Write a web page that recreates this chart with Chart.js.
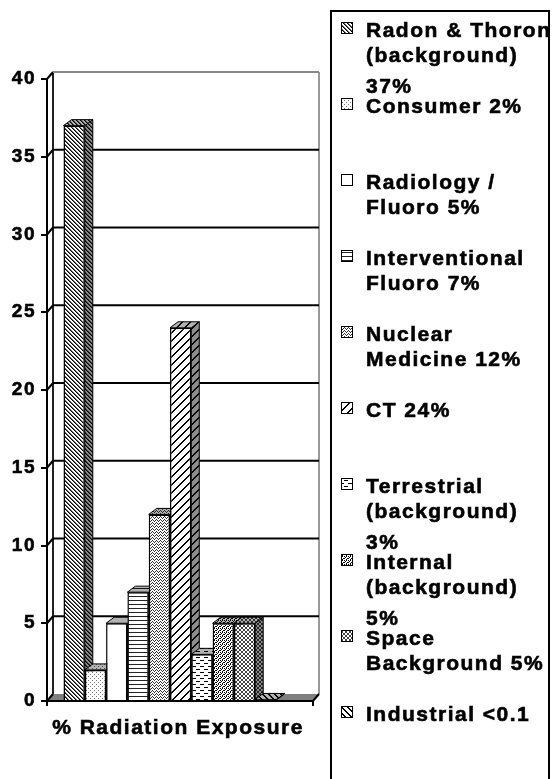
<!DOCTYPE html>
<html>
<head>
<meta charset="utf-8">
<script src="https://cdn.jsdelivr.net/npm/chart.js@4"></script>
<style>
  html, body { margin: 0; padding: 0; background: #fff; }
  #wrap { width: 556px; height: 779px; }
</style>
</head>
<body>
<div id="wrap"><canvas id="chart" width="556" height="779"></canvas></div>
<script>
// ---- data ----
const categories = ['% Radiation Exposure'];
const seriesLabels = [
  ['Radon & Thoron', '(background)', '37%'],
  ['Consumer 2%'],
  ['Radiology /', 'Fluoro 5%'],
  ['Interventional', 'Fluoro 7%'],
  ['Nuclear', 'Medicine 12%'],
  ['CT 24%'],
  ['Terrestrial', '(background)', '3%'],
  ['Internal', '(background)', '5%'],
  ['Space', 'Background 5%'],
  ['Industrial <0.1']
];
const seriesValues = [37, 2, 5, 7, 12, 24, 3, 5, 5, 0.1];
const yTicks = [0, 5, 10, 15, 20, 25, 30, 35, 40];

const FONT = '"Liberation Sans", Arial, sans-serif';
const SPACING = '1.5px';

// fake-3D depths (px): wall offset, bar offset, extra floor to the right
const DEPTH = { wallX: 6, wallY: 7, barX: 8, barY: 6, extra: 20 };

// ---- fill patterns (pixel tiles, Excel-style) ----
const TILES = [
  { rows: ['#+..', '.#+.', '..#+', '+..#'], c: { '#': '#000', '+': '#666' } },     // radon
  { rows: ['+...', '....', '..+.', '....'], c: { '+': '#777' } },                  // consumer
  null,                                                                          // radiology
  { rows: ['####', '....', '....', '....'], c: { '#': '#222' } },                  // interventional
  { rows: ['#...', '.#.#', '..#.'], c: { '#': '#333' } },                          // nuclear
  { rows: ['#......#', '......##', '.....##.', '....##..', '...##...', '..##....', '.##.....', '##......'], c: { '#': '#000' } }, // CT
  { rows: ['####....', '........', '........', '....####', '........', '........'], c: { '#': '#000' } }, // terrestrial
  { rows: ['#.#.', '.#..', '#..#', '..#.'], c: { '#': '#000' } },                  // internal
  { rows: ['.##.', '#..#', '#..#', '.##.'], c: { '#': '#444' } },                  // space
  { rows: ['##....', '.##...', '..##..', '...##.', '....##', '#....#'], c: { '#': '#000' } } // industrial
];

function makePattern(tile) {
  if (!tile) return '#ffffff';
  const c = document.createElement('canvas');
  c.width = tile.rows[0].length;
  c.height = tile.rows.length;
  const g = c.getContext('2d');
  g.fillStyle = '#fff';
  g.fillRect(0, 0, c.width, c.height);
  tile.rows.forEach((row, y) => {
    [...row].forEach((ch, x) => {
      if (tile.c[ch]) {
        g.fillStyle = tile.c[ch];
        g.fillRect(x, y, 1, 1);
      }
    });
  });
  return g.createPattern(c, 'repeat');
}

const fills = TILES.map(makePattern);

function poly(ctx, pts) {
  ctx.beginPath();
  ctx.moveTo(pts[0][0], pts[0][1]);
  for (let i = 1; i < pts.length; i++) ctx.lineTo(pts[i][0], pts[i][1]);
  ctx.closePath();
}

// walls, floor, gridlines and the side/top faces of each column
const box3d = {
  id: 'box3d',
  beforeLayout(chart) { chart.ctx.letterSpacing = SPACING; },
  beforeDraw(chart) { chart.ctx.letterSpacing = SPACING; },
  beforeDatasetsDraw(chart) {
    const { ctx, chartArea: a, scales: { y } } = chart;
    const right = a.right + DEPTH.extra;
    const wx = DEPTH.wallX, wy = DEPTH.wallY;
    ctx.save();

    // floor
    poly(ctx, [[a.left, a.bottom], [right, a.bottom], [right + wx, a.bottom - wy], [a.left + wx, a.bottom - wy]]);
    ctx.fillStyle = '#808080';
    ctx.fill();

    // back wall edges
    ctx.lineWidth = 2;
    ctx.strokeStyle = '#999';
    ctx.beginPath();
    ctx.moveTo(right + wx, y.getPixelForValue(y.max) - wy);
    ctx.lineTo(right + wx, a.bottom - wy);
    ctx.stroke();
    ctx.strokeStyle = '#222';
    ctx.beginPath();
    ctx.moveTo(a.left + wx, y.getPixelForValue(y.max) - wy);
    ctx.lineTo(a.left + wx, a.bottom - wy);
    ctx.stroke();

    // gridlines on back wall + little diagonals on the side wall
    yTicks.forEach(v => {
      const py = y.getPixelForValue(v);
      ctx.strokeStyle = '#000';
      ctx.beginPath();
      ctx.moveTo(a.left, py);
      ctx.lineTo(a.left + wx, py - wy);
      ctx.stroke();
      if (v === 0) return;
      ctx.strokeStyle = v === y.max ? '#888' : '#000';
      ctx.beginPath();
      ctx.moveTo(a.left + wx, py - wy);
      ctx.lineTo(right + wx, py - wy);
      ctx.stroke();
    });

    // side and top faces, left to right (fronts are drawn by Chart.js afterwards)
    const bx = DEPTH.barX, by = DEPTH.barY;
    ctx.lineWidth = 1;
    ctx.strokeStyle = '#000';
    seriesValues.forEach((v, i) => {
      const bar = chart.getDatasetMeta(i).data[0];
      const l = bar.x - bar.width / 2, r = bar.x + bar.width / 2;
      const t = bar.y, b = bar.base;

      poly(ctx, [[r, t], [r + bx, t - by], [r + bx, b - by], [r, b]]);
      ctx.fillStyle = fills[i];
      ctx.fill();
      ctx.fillStyle = 'rgba(0,0,0,0.45)';
      ctx.fill();
      ctx.stroke();

      poly(ctx, [[l, t], [l + bx, t - by], [r + bx, t - by], [r, t]]);
      ctx.fillStyle = fills[i];
      ctx.fill();
      ctx.fillStyle = 'rgba(0,0,0,0.3)';
      ctx.fill();
      ctx.stroke();
    });
    ctx.restore();
  },
  afterDatasetsDraw(chart) {
    const { ctx, chartArea: a } = chart;
    const right = a.right + DEPTH.extra;
    ctx.save();
    ctx.strokeStyle = '#000';
    ctx.lineWidth = 2;
    ctx.beginPath();
    ctx.moveTo(a.left, a.bottom + 5);
    ctx.lineTo(a.left, a.bottom);
    ctx.lineTo(right, a.bottom);
    ctx.lineTo(right + DEPTH.wallX, a.bottom - DEPTH.wallY);
    ctx.moveTo(right, a.bottom);
    ctx.lineTo(right, a.bottom + 5);
    ctx.stroke();
    ctx.restore();
  },
  afterDraw(chart) {
    const ctx = chart.ctx;
    const lineOffsets = [0, 25, 56];
    ctx.save();
    ctx.letterSpacing = SPACING;
    ctx.strokeStyle = '#000';
    ctx.lineWidth = 2;
    ctx.strokeRect(331, 11, 218, 800);
    ctx.font = 'bold 21px ' + FONT;
    ctx.textBaseline = 'alphabetic';
    ctx.textAlign = 'left';
    seriesLabels.forEach((lines, i) => {
      const base = 37 + i * 76;
      ctx.fillStyle = fills[i];
      ctx.fillRect(341, base - 15, 12, 12);
      ctx.lineWidth = 1;
      ctx.strokeRect(341.5, base - 14.5, 11, 11);
      ctx.fillStyle = '#000';
      ctx.lineWidth = 0.6;
      lines.forEach((txt, j) => {
        ctx.strokeText(txt, 366, base + lineOffsets[j]);
        ctx.fillText(txt, 366, base + lineOffsets[j]);
      });
    });
    ctx.restore();
  }
};

new Chart(document.getElementById('chart').getContext('2d'), {
  type: 'bar',
  data: {
    labels: categories,
    datasets: seriesValues.map((v, i) => ({
      label: seriesLabels[i].join(' '),
      data: [v],
      backgroundColor: fills[i],
      borderColor: '#000',
      borderWidth: 1.5
    }))
  },
  options: {
    responsive: false,
    animation: false,
    layout: { padding: { top: 79, right: 263, bottom: 0, left: 0 } },
    datasets: { bar: { barPercentage: 1, categoryPercentage: 0.866 } },
    plugins: {
      legend: { display: false },
      tooltip: { enabled: false }
    },
    scales: {
      x: {
        grid: { display: false, drawTicks: false },
        border: { display: false },
        ticks: {
          color: '#000',
          padding: 15,
          labelOffset: 8,
          textStrokeColor: '#000',
          textStrokeWidth: 0.6,
          font: { size: 21, weight: 'bold', family: FONT }
        },
        afterFit: s => { s.height = 78; }
      },
      y: {
        min: 0,
        max: 40,
        ticks: {
          stepSize: 5,
          color: '#000',
          padding: 5,
          textStrokeColor: '#000',
          textStrokeWidth: 0.6,
          font: { size: 19, weight: 'bold', family: FONT }
        },
        grid: { drawOnChartArea: false, drawTicks: true, tickLength: 6, color: '#000', lineWidth: 2 },
        border: { display: true, color: '#000', width: 2 },
        afterFit: s => { s.width = 47; }
      }
    }
  },
  plugins: [box3d]
});
</script>
</body>
</html>
